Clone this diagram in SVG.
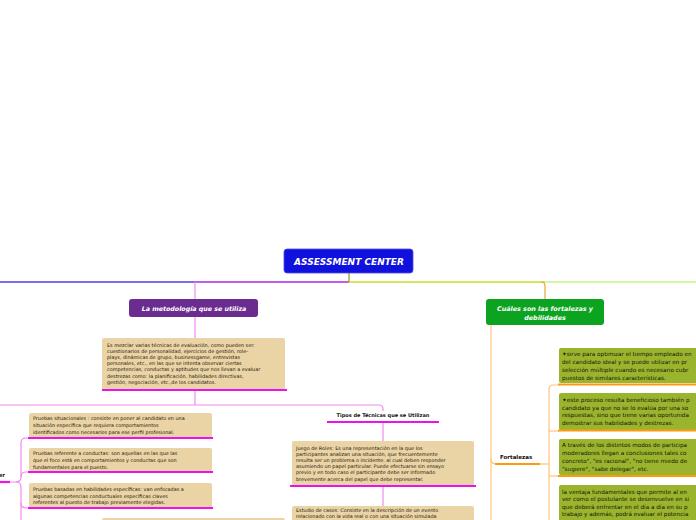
<svg xmlns="http://www.w3.org/2000/svg" width="696" height="520" viewBox="0 0 696 520">
<style>
text{font-family:"DejaVu Sans","Verdana",sans-serif;}
.tan{fill:#ead4a6;}
.olive{fill:#9bb42e;}
.bt{font-size:4.9px;fill:#1e180c;}
.rt{font-size:5.7px;fill:#141408;}
.mag{stroke:#ee11ee;stroke-width:2.2;fill:none;}
.org{stroke:#ff9a10;stroke-width:2.2;fill:none;}
.pk{stroke:#f08af0;stroke-width:1.2;fill:none;}
.og{stroke:#ffc47a;stroke-width:1.2;fill:none;}
.ttl{font-weight:bold;font-style:italic;fill:#fff;text-anchor:middle;}
.lbl{font-weight:bold;fill:#111;}
</style>
<rect width="696" height="520" fill="#fff"/>
<g id="connectors">
<path d="M0,282 H195" stroke="#4a3ee0" stroke-width="1.5" fill="none"/>
<path d="M195,282 H349" stroke="#b024e4" stroke-width="1.5" fill="none"/>
<path d="M349,282 H545" stroke="#c2dc34" stroke-width="1.5" fill="none"/>
<path d="M545,282 H696" stroke="#c4f48a" stroke-width="1.5" fill="none"/>
<path d="M349,273 V282" stroke="#a8b030" stroke-width="1.5" fill="none"/>
<path class="pk" d="M195,282 V299"/>
<path d="M541,282 Q545,282 545,286 V299" stroke="#f4a030" stroke-width="1.2" fill="none"/>
<path class="pk" d="M195,317 V338"/>
<path class="pk" d="M195,391 V405"/>
<path class="pk" d="M0,405 H379 Q383,405 383,409 V411"/>
<path class="pk" d="M383,423 V441"/>
<path class="pk" d="M383,487 V506"/>
<path class="pk" d="M10,482 H16 Q21,482 21,477 V443 Q21,438 26,438 H29"/>
<path class="pk" d="M21,477 Q21,472 26,472 H29"/>
<path class="pk" d="M16,482 Q21,482 21,487 V503 Q21,508 26,508 H29"/>
<path class="pk" d="M21,503 V520"/>
<path class="og" d="M491,325 V520"/>
<path class="og" d="M491,459 Q491,464 496,464"/>
<path class="og" d="M540,464 H549"/>
<path class="og" d="M558,385 H553 Q549,385 549,389 V520"/>
<path class="og" d="M549,431 H559"/>
<path class="og" d="M549,476 H559"/>
</g>
<g id="root">
<rect x="284" y="249" width="129" height="24" rx="3" fill="#1111dd" stroke="#4a4af0" stroke-width="0.8"/>
<text class="ttl" x="349" y="264.5" font-size="9">ASSESSMENT CENTER</text>
</g>
<g id="metodologia">
<rect x="129" y="299" width="129" height="18" rx="3" fill="#6a2c8f"/>
<text class="ttl" x="194" y="310.5" font-size="6.3">La metodología que se utiliza</text>
</g>
<g id="fortalezas-debilidades">
<rect x="486" y="299" width="118" height="26" rx="3" fill="#0ba31f"/>
<text class="ttl" x="545" y="310.5" font-size="6.4">Cuáles son las fortalezas y</text>
<text class="ttl" x="545" y="319.5" font-size="6.4">debilidades</text>
</g>
<g id="descripcion">
<rect class="tan" x="102" y="338" width="183" height="52" rx="2"/>
<line class="mag" x1="102" y1="390" x2="287" y2="390"/>
<text class="bt" x="107" y="346.5">Es mezclar varias técnicas de evaluación, como pueden ser:</text>
<text class="bt" x="107" y="352.7">cuestionarios de personalidad, ejercicios de gestión, role-</text>
<text class="bt" x="107" y="358.9">plays, dinámicas de grupo, businessgame, entrevistas</text>
<text class="bt" x="107" y="365.1">personales, etc., en las que se intenta observar ciertas</text>
<text class="bt" x="107" y="371.3">competencias, conductas y aptitudes que nos llevan a evaluar</text>
<text class="bt" x="107" y="377.5">destrezas como: la planificación, habilidades directivas,</text>
<text class="bt" x="107" y="383.7">gestión, negociación, etc.,de los candidatos.</text>
</g>
<g id="tipos">
<text class="lbl" x="383" y="417" font-size="5" text-anchor="middle">Tipos de Técnicas que se Utilizan</text>
<line class="mag" x1="327" y1="422" x2="439" y2="422"/>
</g>
<g id="juego-roles">
<rect class="tan" x="292" y="441" width="182" height="45" rx="2"/>
<line class="mag" x1="290" y1="486" x2="476" y2="486"/>
<text class="bt" x="296" y="449.5">Juego de Roles: Es una representación en la que los</text>
<text class="bt" x="296" y="455.7">participantes analizan una situación, que frecuentemente</text>
<text class="bt" x="296" y="461.9">resulta ser un problema o incidente, al cual deben responder</text>
<text class="bt" x="296" y="468.1">asumiendo un papel particular. Puede efectuarse sin ensayo</text>
<text class="bt" x="296" y="474.3">previo y en todo caso el participante debe ser informado</text>
<text class="bt" x="296" y="480.5">brevemente acerca del papel que debe representar.</text>
</g>
<g id="estudio-casos">
<rect class="tan" x="292" y="506" width="182" height="20" rx="2"/>
<text class="bt" x="296" y="512">Estudio de casos: Consiste en la descripción de un evento</text>
<text class="bt" x="296" y="518">relacionado con la vida real o con una situación simulada</text>
</g>
<g id="poder">
<text class="lbl" x="5" y="477" font-size="5.5" text-anchor="end">er</text>
<line class="mag" x1="0" y1="482" x2="10" y2="482"/>
</g>
<g id="situacionales">
<rect class="tan" x="29" y="413" width="183" height="25" rx="2"/>
<line class="mag" x1="28" y1="438" x2="213" y2="438"/>
<text class="bt" x="33" y="420">Pruebas situacionales : consiste en poner al candidato en una</text>
<text class="bt" x="33" y="427">situación específica que requiera comportamientos</text>
<text class="bt" x="33" y="434">identificados como necesarios para ese perfil profesional.</text>
</g>
<g id="conductas">
<rect class="tan" x="29" y="448" width="183" height="24" rx="2"/>
<line class="mag" x1="28" y1="472" x2="213" y2="472"/>
<text class="bt" x="33" y="455">Pruebas referente a conductas: son aquellas en las que las</text>
<text class="bt" x="33" y="462">que el foco está en comportamientos y conductas que son</text>
<text class="bt" x="33" y="469">fundamentales para el puesto.</text>
</g>
<g id="habilidades">
<rect class="tan" x="29" y="483" width="183" height="25" rx="2"/>
<line class="mag" x1="28" y1="508" x2="213" y2="508"/>
<text class="bt" x="33" y="491">Pruebas basadas en habilidades específicas: van enfocadas a</text>
<text class="bt" x="33" y="497.5">algunas competencias conductuales específicas claves</text>
<text class="bt" x="33" y="504">referentes al puesto de trabajo previamente elegidas.</text>
</g>
<g id="caja-inferior">
<rect class="tan" x="102" y="518" width="183" height="10" rx="2"/>
</g>
<g id="fortalezas">
<text class="lbl" x="500" y="459" font-size="5.5">Fortalezas</text>
<line class="org" x1="495" y1="464" x2="540" y2="464"/>
</g>
<g id="f1">
<rect class="olive" x="559" y="348" width="140" height="35" rx="2"/>
<line class="org" x1="558" y1="384.5" x2="696" y2="384.5"/>
<text class="rt" x="562" y="355.5">✦sirve para optimizar el tiempo empleado en</text>
<text class="rt" x="562" y="363.7">del candidato ideal y se puede utilizar en pr</text>
<text class="rt" x="562" y="371.9">selección múltiple cuando es necesario cubr</text>
<text class="rt" x="562" y="380">puestos de similares características.</text>
</g>
<g id="f2">
<rect class="olive" x="559" y="393" width="140" height="37" rx="2"/>
<line class="org" x1="558" y1="430.5" x2="696" y2="430.5"/>
<text class="rt" x="562" y="402">✦este proceso resulta beneficioso también p</text>
<text class="rt" x="562" y="409.5">candidato ya que no se lo evalúa por una so</text>
<text class="rt" x="562" y="417">respuestas, sino que tiene varias oportunida</text>
<text class="rt" x="562" y="424.5">demostrar sus habilidades y destrezas.</text>
</g>
<g id="f3">
<rect class="olive" x="559" y="439" width="140" height="36" rx="2"/>
<line class="org" x1="558" y1="476" x2="696" y2="476"/>
<text class="rt" x="562" y="447">A través de los distintos modos de participa</text>
<text class="rt" x="562" y="455">moderadores llegan a conclusiones tales  co</text>
<text class="rt" x="562" y="463">concreto", "es racional", "no tiene miedo de</text>
<text class="rt" x="562" y="471">"sugiere", "sabe delegar", etc.</text>
</g>
<g id="f4">
<rect class="olive" x="559" y="485" width="140" height="40" rx="2"/>
<text class="rt" x="562" y="493.5">la ventaja fundamentales que permite al en</text>
<text class="rt" x="562" y="501">ver como el postulante se desenvuelve en si</text>
<text class="rt" x="562" y="508.5">que deberá enfrentar en el día a día en su p</text>
<text class="rt" x="562" y="516">trabajo y además, podrá evaluar el potencia</text>
</g>
</svg>
